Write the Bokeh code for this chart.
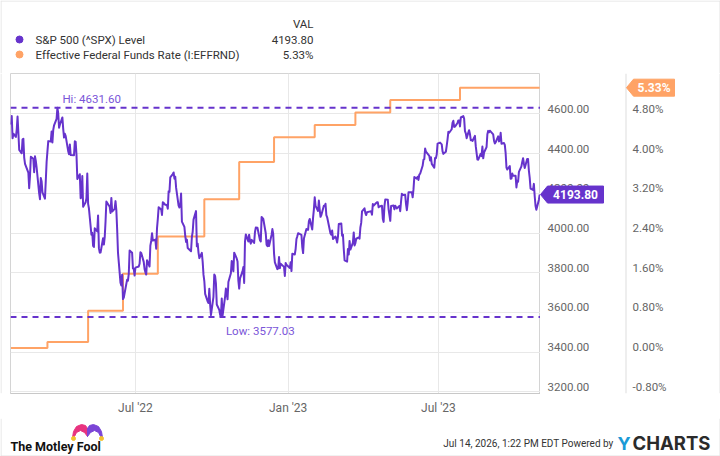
import pandas as pd
from bokeh.plotting import figure
from bokeh.layouts import column, row
from bokeh.models import (LinearAxis, Range1d, FixedTicker, Span, Label,
                          ColumnDataSource, CustomJSTickFormatter)
from bokeh.core.properties import value
from bokeh.embed import file_html
from bokeh.resources import INLINE

# ---------------- data: S&P 500 daily closes, one list per month ----------------
spx_2022_02 = [4546.54, 4589.38, 4477.44, 4500.53, 4483.87, 4521.54, 4587.18, 4504.08, 4418.64,
               4401.67, 4471.07, 4475.01, 4380.26, 4348.87, 4304.76, 4225.50, 4288.70, 4384.65,
               4373.94]
spx_2022_03 = [4306.26, 4386.54, 4363.49, 4328.87, 4201.09, 4170.70, 4277.88, 4259.52, 4204.31,
               4173.11, 4262.45, 4357.86, 4411.67, 4463.12, 4461.18, 4511.61, 4456.24, 4520.16,
               4543.06, 4575.52, 4631.60, 4602.45, 4530.41]
spx_2022_04 = [4545.86, 4582.64, 4525.12, 4481.15, 4500.21, 4488.28, 4412.53, 4397.45, 4446.59,
               4392.59, 4391.69, 4462.21, 4459.45, 4393.66, 4271.78, 4296.12, 4175.20, 4183.96,
               4287.50, 4131.93]
spx_2022_05 = [4155.38, 4175.48, 4300.17, 4146.87, 4123.34, 3991.24, 4001.05, 3935.18, 3930.08,
               4023.89, 4008.01, 4088.85, 3923.68, 3900.79, 3901.36, 3973.75, 3941.48, 3978.73,
               4057.84, 4158.24, 4132.15]
spx_2022_06 = [4101.23, 4176.82, 4108.54, 4121.43, 4160.68, 4115.77, 4017.82, 3900.86, 3749.63,
               3735.48, 3789.99, 3666.77, 3674.84, 3764.79, 3759.89, 3795.73, 3911.74, 3900.11,
               3821.55, 3818.83, 3785.38]
spx_2022_07 = [3825.33, 3831.39, 3845.08, 3902.62, 3899.38, 3854.43, 3818.80, 3801.78, 3790.38,
               3863.16, 3830.85, 3936.69, 3959.90, 3998.95, 3961.63, 3966.84, 3921.05, 4023.61,
               4072.43, 4130.29]
spx_2022_08 = [4118.63, 4091.19, 4155.17, 4151.94, 4145.19, 4140.06, 4122.47, 4210.24, 4207.27,
               4280.15, 4297.14, 4305.20, 4274.04, 4283.74, 4228.48, 4137.99, 4128.73, 4140.77,
               4199.12, 4057.66, 4030.61, 3986.16, 3955.00]
spx_2022_09 = [3966.85, 3924.26, 3908.19, 3979.87, 4006.18, 4067.36, 4110.41, 3932.69, 3946.01,
               3901.35, 3873.33, 3899.89, 3855.93, 3789.93, 3757.99, 3693.23, 3655.04, 3647.29,
               3719.04, 3640.47, 3585.62]
spx_2022_10 = [3678.43, 3790.93, 3783.28, 3744.52, 3639.66, 3612.39, 3588.84, 3577.03, 3669.91,
               3583.07, 3677.95, 3719.98, 3695.16, 3665.78, 3752.75, 3797.34, 3859.11, 3830.60,
               3807.30, 3901.06, 3871.98]
spx_2022_11 = [3856.10, 3759.69, 3719.89, 3770.55, 3806.80, 3828.11, 3748.57, 3956.37, 3992.93,
               3957.25, 3991.73, 3958.79, 3946.56, 3965.34, 3949.94, 4003.58, 4027.26, 4026.12,
               3963.94, 3957.63, 4080.11]
spx_2022_12 = [4076.57, 4071.70, 3998.84, 3941.26, 3933.92, 3963.51, 3934.38, 3990.56, 4019.65,
               3995.32, 3895.75, 3852.36, 3817.66, 3821.62, 3878.44, 3822.39, 3844.82, 3829.25,
               3783.22, 3849.28, 3839.50]
spx_2023_01 = [3824.14, 3852.97, 3808.10, 3895.08, 3892.09, 3919.25, 3969.61, 3983.17, 3999.09,
               3990.97, 3928.86, 3898.85, 3972.61, 4019.81, 4016.95, 4016.22, 4060.43, 4070.56,
               4017.77, 4076.60]
spx_2023_02 = [4119.21, 4179.76, 4136.48, 4111.08, 4164.00, 4117.86, 4081.50, 4090.46, 4137.29,
               4136.13, 4147.60, 4090.41, 4079.09, 3997.34, 3991.05, 4012.32, 3970.04, 3982.24,
               3970.15]
spx_2023_03 = [3951.39, 3981.35, 4045.64, 4048.42, 3986.37, 3992.01, 3918.32, 3861.59, 3855.76,
               3919.29, 3891.93, 3960.28, 3916.64, 3951.57, 4002.87, 3936.97, 3948.72, 3970.99,
               3977.53, 3971.27, 4027.81, 4050.83, 4109.31]
spx_2023_04 = [4124.51, 4100.60, 4090.38, 4105.02, 4109.11, 4108.94, 4091.95, 4146.22, 4137.64,
               4151.32, 4154.87, 4154.52, 4129.79, 4133.52, 4137.04, 4071.63, 4055.99, 4135.35,
               4169.48]
spx_2023_05 = [4167.87, 4119.58, 4090.75, 4061.22, 4136.25, 4138.12, 4119.17, 4137.64, 4130.62,
               4124.08, 4136.28, 4109.90, 4158.77, 4198.05, 4191.98, 4192.63, 4145.58, 4115.24,
               4151.28, 4205.45, 4205.52, 4179.83]
spx_2023_06 = [4221.02, 4282.37, 4273.79, 4283.85, 4267.52, 4293.93, 4298.86, 4338.93, 4369.01,
               4372.59, 4425.84, 4409.59, 4388.71, 4365.69, 4381.89, 4348.33, 4328.82, 4378.41,
               4376.86, 4396.44, 4450.38]
spx_2023_07 = [4455.59, 4446.82, 4411.59, 4398.95, 4409.53, 4439.26, 4472.16, 4510.04, 4505.42,
               4522.79, 4554.98, 4565.72, 4534.87, 4536.34, 4554.64, 4567.46, 4566.75, 4537.41,
               4582.23, 4588.96]
spx_2023_08 = [4576.73, 4513.39, 4501.89, 4478.03, 4518.44, 4499.38, 4467.71, 4468.83, 4464.05,
               4489.72, 4437.86, 4404.33, 4370.36, 4369.71, 4399.77, 4387.55, 4436.01, 4376.31,
               4405.71, 4433.31, 4497.63, 4514.87, 4507.66]
spx_2023_09 = [4515.77, 4496.83, 4465.48, 4451.14, 4457.49, 4487.46, 4461.90, 4467.44, 4505.10,
               4450.32, 4453.53, 4443.95, 4402.20, 4330.00, 4320.06, 4337.44, 4273.53, 4274.51,
               4299.70, 4288.05]
spx_2023_10 = [4288.39, 4229.45, 4263.75, 4258.19, 4308.50, 4335.66, 4358.24, 4376.95, 4349.61,
               4327.78, 4373.63, 4373.20, 4314.60, 4278.00, 4224.16, 4217.04, 4247.68, 4186.77,
               4137.23, 4117.37, 4166.82, 4193.80]

market_holidays = ["2022-02-21", "2022-04-15", "2022-05-30", "2022-06-20", "2022-07-04",
                   "2022-09-05", "2022-11-24", "2022-12-26", "2023-01-02", "2023-01-16",
                   "2023-02-20", "2023-04-07", "2023-05-29", "2023-06-19", "2023-07-04",
                   "2023-09-04"]

# Effective Federal Funds Rate (%), step changes
rate_dates = ["2022-02-01", "2022-03-17", "2022-05-05", "2022-06-16", "2022-07-28", "2022-09-22",
              "2022-11-03", "2022-12-15", "2023-02-02", "2023-03-23", "2023-05-04", "2023-07-27",
              "2023-10-31"]
rate_values = [0.08, 0.20, 0.83, 1.58, 2.33, 3.08, 3.83, 4.33, 4.58, 4.83, 5.08, 5.33, 5.33]

spx_ticks = [3200, 3400, 3600, 3800, 4000, 4200, 4400, 4600]
rate_ticks = [-0.8, 0.0, 0.8, 1.6, 2.4, 3.2, 4.0, 4.8]
x_tick_dates = ["2022-07-01", "2023-01-01", "2023-07-01"]
x_tick_labels = ["Jul '22", "Jan '23", "Jul '23"]

series_names = ["S&P 500 (^SPX) Level", "Effective Federal Funds Rate (I:EFFRND)"]
value_header = "VAL"
footer_date = "Jul 14, 2026, 1:22 PM EDT Powered by"

# ---------------- assemble ----------------
monthly = [spx_2022_02, spx_2022_03, spx_2022_04, spx_2022_05, spx_2022_06, spx_2022_07,
           spx_2022_08, spx_2022_09, spx_2022_10, spx_2022_11, spx_2022_12, spx_2023_01,
           spx_2023_02, spx_2023_03, spx_2023_04, spx_2023_05, spx_2023_06, spx_2023_07,
           spx_2023_08, spx_2023_09, spx_2023_10]
bdays = pd.bdate_range("2022-02-01", "2023-10-31", freq="C", holidays=market_holidays)
groups = {}
for d in bdays:
    groups.setdefault((d.year, d.month), []).append(d)
spx_dates, spx_vals = [], []
for k, vals in zip(sorted(groups), monthly):
    ds = groups[k]
    if len(ds) != len(vals):
        raise SystemExit(f"month {k}: {len(ds)} days vs {len(vals)} values")
    spx_dates += ds
    spx_vals += vals

src = ColumnDataSource(dict(date=spx_dates, spx=spx_vals))
rsrc = ColumnDataSource(dict(date=pd.to_datetime(rate_dates), rate=rate_values))

# ---------------- layout constants / style ----------------
W, H = 720, 456
HDR_H = 73          # legend block height (frame top)
FRAME_H = 320       # plot frame height
XAX_H = 25          # x-axis label band
FTR_H = H - HDR_H - FRAME_H - XAX_H
LEFT_PAD = 10
MAIN_W = 530
RIGHT_W = W - LEFT_PAD - MAIN_W
PURPLE = "#6633cc"
ORANGE = "#ffa366"
FONT = "Roboto"
BORDER = "#e2e2e2"

y_lo, y_hi = 3191.0, 4804.0
ppu = FRAME_H / (y_hi - y_lo)
scale = (spx_ticks[-1] - spx_ticks[0]) / (rate_ticks[-1] - rate_ticks[0])
offset = spx_ticks[0] - rate_ticks[0] * scale
y_range = Range1d(y_lo, y_hi)
rate_range = Range1d((y_lo - offset) / scale, (y_hi - offset) / scale)


def blank(width, height, xr, yr, **kw):
    f = figure(width=width, height=height, x_range=xr, y_range=yr,
               x_axis_location=None, y_axis_location=None, output_backend="svg",
               toolbar_location=None, outline_line_color=None, **kw)
    f.xgrid.visible = False
    f.ygrid.visible = False
    f.background_fill_color = "white"
    f.border_fill_color = "white"
    return f


def txt(f, x, y, t, size="11.5px", color="#333333", font=FONT, style="normal",
        align="left", baseline="middle", **kw):
    f.text(x=[x], y=[y], text=[t], text_font=value(font), text_font_size=size,
           text_color=color, text_font_style=style, text_align=align,
           text_baseline=baseline, **kw)


# ---------------- header (legend block) ----------------
hdr = blank(W, HDR_H, Range1d(0, W), Range1d(HDR_H, 0), min_border=0)
hdr.segment(x0=[0, 0.5, W - 0.5], y0=[0.5, 0, 0], x1=[W, 0.5, W - 0.5], y1=[0.5, HDR_H, HDR_H],
            line_color=BORDER, line_width=1)
txt(hdr, 313, 23, value_header, align="right")
hdr.scatter(x=[19], y=[39], size=7, fill_color=PURPLE, line_color=PURPLE)
hdr.scatter(x=[19], y=[54], size=7, fill_color=ORANGE, line_color=ORANGE)
txt(hdr, 35, 39, series_names[0])
txt(hdr, 35, 54, series_names[1])
last_spx = spx_vals[-1]
last_rate = rate_values[-1]
txt(hdr, 313, 39, f"{last_spx:.2f}", align="right")
txt(hdr, 313, 54, f"{last_rate:.2f}%", align="right")

# ---------------- left border strip ----------------
strip = blank(LEFT_PAD, FRAME_H + XAX_H, Range1d(0, LEFT_PAD), Range1d(0, FRAME_H + XAX_H),
              min_border=0)
strip.segment(x0=[0.5], y0=[0], x1=[0.5], y1=[FRAME_H + XAX_H], line_color=BORDER)

# ---------------- main plot ----------------
p = figure(width=MAIN_W, height=FRAME_H + XAX_H, x_axis_type="datetime",
           x_range=Range1d(pd.Timestamp("2022-01-31 12:00"), pd.Timestamp("2023-11-01")),
           y_range=y_range, y_axis_location=None,
           output_backend="svg", toolbar_location=None,
           min_border_left=0, min_border_right=0, min_border_top=0, min_border_bottom=XAX_H)
p.extra_y_ranges = {"rate": rate_range}
p.background_fill_color = "white"
p.border_fill_color = "white"
p.outline_line_color = "#d4d4d4"

x_ms = [pd.Timestamp(d).value // 10**6 for d in x_tick_dates]
xa = p.xaxis[0]
xa.ticker = FixedTicker(ticks=x_ms)
xa.major_label_overrides = {m: l for m, l in zip(x_ms, x_tick_labels)}
xa.axis_line_color = "#c8c8c8"
xa.major_tick_line_color = None
xa.minor_tick_line_color = None
xa.major_tick_in = 0
xa.major_tick_out = 0
xa.major_label_standoff = 7
xa.major_label_text_font = FONT
xa.major_label_text_font_size = "12px"
xa.major_label_text_color = "#666666"

p.xgrid.ticker = FixedTicker(ticks=x_ms)
p.ygrid.ticker = FixedTicker(ticks=spx_ticks)
p.xgrid.grid_line_color = "#e8e8e8"
p.ygrid.grid_line_color = "#e8e8e8"

p.step(x="date", y="rate", source=rsrc, mode="after", y_range_name="rate",
       line_color=ORANGE, line_width=2)
p.line(x="date", y="spx", source=src, line_color=PURPLE, line_width=2, line_join="round")

hi = max(spx_vals); lo = min(spx_vals)
hi_d = spx_dates[spx_vals.index(hi)]; lo_d = spx_dates[spx_vals.index(lo)]
for v in (hi, lo):
    p.add_layout(Span(location=v, dimension="width", line_color=PURPLE, line_width=2,
                      line_dash="6 5"))
p.add_layout(Label(x=hi_d, y=hi, x_offset=5, y_offset=2, text=f"Hi: {hi:.2f}",
                   text_baseline="bottom", text_font=FONT, text_font_size="11.5px",
                   text_color="#7a55d8"))
p.add_layout(Label(x=lo_d, y=lo, x_offset=5, y_offset=-7, text=f"Low: {lo:.2f}",
                   text_baseline="top", text_font=FONT, text_font_size="11.5px",
                   text_color="#7a55d8"))

# ---------------- right axes panel (shares the y ranges) ----------------
X0 = LEFT_PAD + MAIN_W  # canvas x of frame right edge
right = blank(RIGHT_W, FRAME_H + XAX_H, Range1d(X0, W), y_range,
              min_border_left=0, min_border_right=0, min_border_top=0,
              min_border_bottom=XAX_H)
right.extra_y_ranges = {"rate": rate_range}

shift_px = 5.0
spx_shift = shift_px / ppu
rate_shift = spx_shift / scale
SEP_X = 625.5
STANDOFF = 7
SPX_LOC = X0
RATE_LOC = 625

ya = LinearAxis(fixed_location=SPX_LOC,
                ticker=FixedTicker(ticks=[t + spx_shift for t in spx_ticks]),
                formatter=CustomJSTickFormatter(args=dict(s=spx_shift),
                                                code="return (tick - s).toFixed(2);"))
ra = LinearAxis(y_range_name="rate", fixed_location=RATE_LOC,
                ticker=FixedTicker(ticks=[t + rate_shift for t in rate_ticks]),
                formatter=CustomJSTickFormatter(args=dict(s=rate_shift), code="""
                    let v = tick - s; if (Math.abs(v) < 1e-9) v = 0;
                    return v.toFixed(2) + '%';"""))
for ax in (ya, ra):
    ax.axis_line_color = None
    ax.major_tick_line_color = None
    ax.minor_tick_line_color = None
    ax.major_tick_in = 0
    ax.major_tick_out = 0
    ax.major_label_standoff = STANDOFF
    ax.major_label_text_font = FONT
    ax.major_label_text_font_size = "11.5px"
    ax.major_label_text_color = "#666666"
    right.add_layout(ax, "right")

right.segment(x0=[SEP_X], y0=[y_lo], x1=[SEP_X], y1=[y_hi], line_color="#dddddd")
right.segment(x0=[W - 0.5], y0=[y_lo], x1=[W - 0.5], y1=[y_hi], line_color=BORDER)

# value tags
half = 8.5 / ppu
right.patch(x=[X0, X0 + 7, 603, 603, X0 + 7],
            y=[last_spx, last_spx + half, last_spx + half, last_spx - half, last_spx - half],
            fill_color=PURPLE, line_color=PURPLE, level="overlay")
txt(right, 575, last_spx, f"{last_spx:.2f}", size="12px", color="white", style="bold",
    align="center", level="overlay")
hr = half / scale
TX = SEP_X + 0.5
right.patch(x=[TX, TX + 7, 674, 674, TX + 7],
            y=[last_rate, last_rate + hr, last_rate + hr, last_rate - hr, last_rate - hr],
            y_range_name="rate", fill_color=ORANGE, line_color=ORANGE, level="overlay")
txt(right, 653.5, last_rate, f"{last_rate:.2f}%", size="12px", color="white", style="bold",
    align="center", y_range_name="rate", level="overlay")

# ---------------- footer ----------------
ftr = blank(W, FTR_H, Range1d(0, W), Range1d(H, H - FTR_H), min_border=0)
ftr.segment(x0=[0.5, W - 0.5, 0], y0=[H - FTR_H, H - FTR_H, H - 0.5],
            x1=[0.5, W - 0.5, W], y1=[H, H, H - 0.5], line_color=BORDER)
txt(ftr, 10, 446, "The Motley Fool", size="12.5px", color="#111111", style="bold",
    baseline="alphabetic")
hat_pink = [(72, 437), (73, 431), (76, 426), (81, 424), (85, 425), (87, 428), (87, 436),
            (84, 432), (80, 430), (76, 432), (74, 436)]
hat_purple = [(174 - x, y) for x, y in hat_pink]
for pts, col in ((hat_pink, "#e8337f"), (hat_purple, "#7b45d6")):
    ftr.patch(x=[x for x, _ in pts], y=[y for _, y in pts], fill_color=col, line_color=col)
ftr.scatter(x=[73, 101], y=[438, 438], size=4, fill_color="#f2c12e", line_color="#f2c12e")
txt(ftr, 613, 443, footer_date, size="10px", color="#333333", align="right")
txt(ftr, 617, 442.5, "Y", size="18px", color="#1b9ad6", font="Inter", style="bold")
txt(ftr, 632, 442.5, "CHARTS", size="18.5px", color="#2b2b2b", font="Inter", style="bold")

layout = column(hdr, row(strip, p, right, spacing=0), ftr, spacing=0)
open("out.html", "w").write(file_html(layout, INLINE))
